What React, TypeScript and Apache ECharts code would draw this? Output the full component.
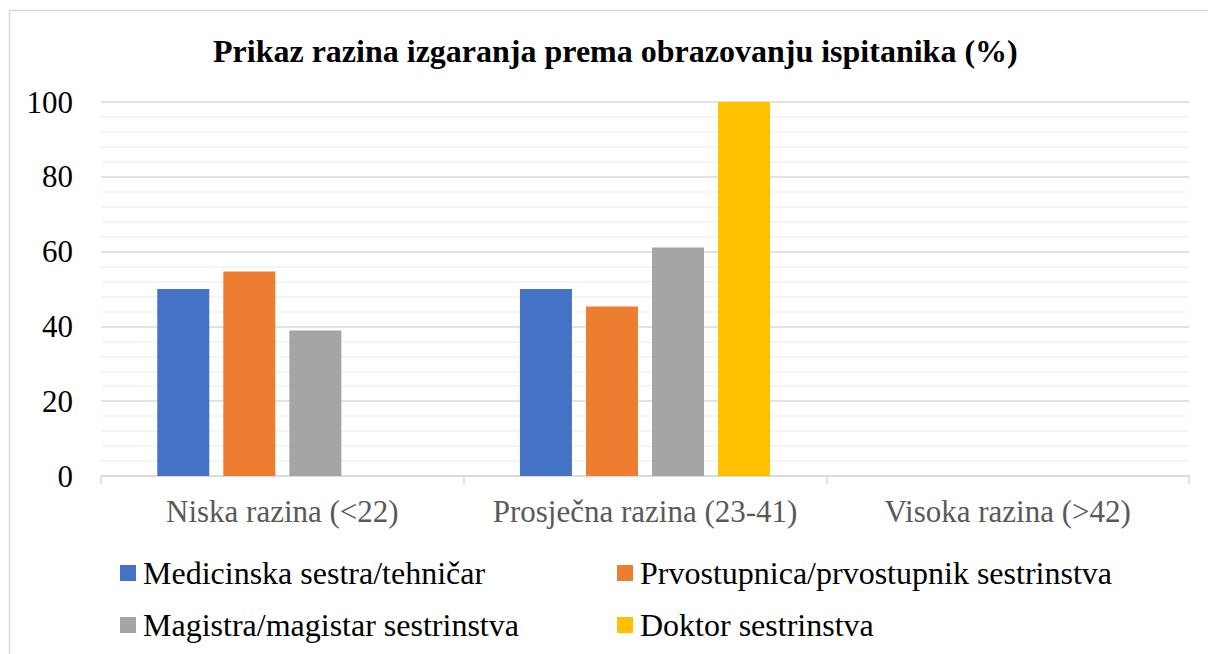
import React, { useEffect, useRef } from "react";
import * as echarts from "echarts";

const titleText = "Prikaz razina izgaranja prema obrazovanju ispitanika (%)";
const categories = ["Niska razina (<22)", "Prosječna razina (23-41)", "Visoka razina (>42)"];
const seriesNames = [
  "Medicinska sestra/tehničar",
  "Prvostupnica/prvostupnik sestrinstva",
  "Magistra/magistar sestrinstva",
  "Doktor sestrinstva",
];
const medicinska = [50, 50, 0];
const prvostupnica = [54.7, 45.3, 0];
const magistra = [38.9, 61.1, 0];
const doktor = [0, 100, 0];
const colors = ["#4472c4", "#ed7d31", "#a5a5a5", "#ffc000"];
const yTicks = [0, 20, 40, 60, 80, 100];

const FONT = "Liberation Serif";

export default function App() {
  const ref = useRef<HTMLDivElement>(null);
  useEffect(() => {
    if (!ref.current) return;
    const chart = echarts.init(ref.current, null, { renderer: "svg" });
    const values = [medicinska, prvostupnica, magistra, doktor];
    const legendPos = [
      { left: 120, top: 557 },
      { left: 617, top: 557 },
      { left: 120, top: 609 },
      { left: 617, top: 609 },
    ];
    chart.setOption({
      animation: false,
      backgroundColor: "#ffffff",
      color: colors,
      textStyle: { fontFamily: FONT },
      title: {
        text: titleText,
        left: 213,
        top: 33,
        padding: 0,
        textStyle: { fontFamily: FONT, fontSize: 32, fontWeight: "bold", color: "#000000", lineHeight: 36 },
      },
      graphic: [
        {
          type: "rect",
          shape: { x: 9.5, y: 10.5, width: 1400, height: 900 },
          style: { fill: "none", stroke: "#d9d9d9", lineWidth: 1.5 },
          silent: true,
        },
      ],
      legend: seriesNames.map((n, i) => ({
        data: [n],
        left: legendPos[i].left,
        top: legendPos[i].top,
        padding: 0,
        itemWidth: 16,
        itemHeight: 16,
        icon: "rect",
        selectedMode: false,
        textStyle: { fontFamily: FONT, fontSize: 32, color: "#000000", lineHeight: 32, padding: [0, 0, 0, 2] },
      })),
      grid: { left: 101, right: 19, top: 102, bottom: 178 },
      xAxis: {
        type: "category",
        data: categories,
        axisLine: { show: true, lineStyle: { color: "#d9d9d9", width: 1.5 } },
        axisTick: { show: true, length: 8, lineStyle: { color: "#d9d9d9", width: 1.5 } },
        axisLabel: { interval: 0, fontFamily: FONT, fontSize: 31, color: "#595959", margin: 20 },
      },
      yAxis: {
        type: "value",
        min: yTicks[0],
        max: yTicks[yTicks.length - 1],
        interval: 20,
        axisLine: { show: false },
        axisTick: { show: false },
        axisLabel: { fontFamily: FONT, fontSize: 31, color: "#000000", margin: 28 },
        splitLine: { show: true, lineStyle: { color: "#d9d9d9", width: 1.5 } },
        minorTick: { show: false, splitNumber: 5 },
        minorSplitLine: { show: true, lineStyle: { color: "#f2f2f2", width: 1.5 } },
      },
      series: seriesNames.map((n, i) => ({
        name: n,
        type: "bar",
        data: values[i],
        barWidth: 52,
        barGap: "27%",
        itemStyle: { color: colors[i] },
      })),
    });
    return () => chart.dispose();
  }, []);
  return (
    <div
      ref={ref}
      style={{ position: "fixed", left: 0, top: 0, width: 1208, height: 654, background: "#ffffff" }}
    />
  );
}
